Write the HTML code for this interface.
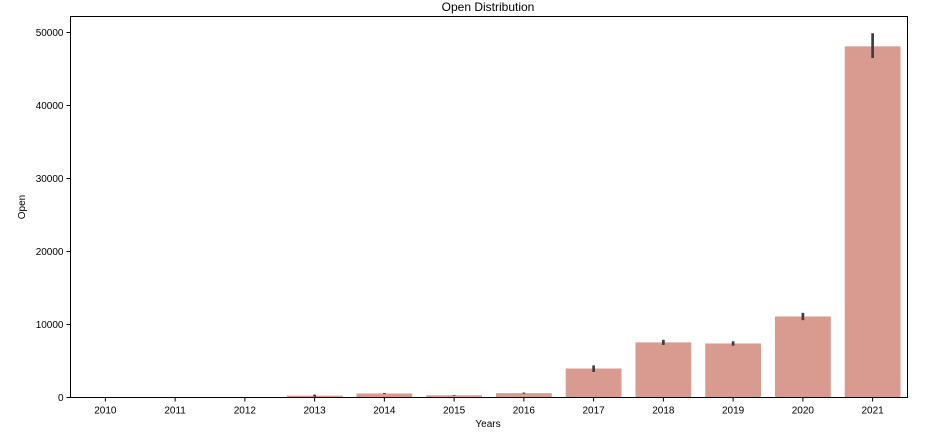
<!DOCTYPE html>
<html><head><meta charset="utf-8">
<style>
body{margin:0;background:#fff;font-family:"Liberation Sans","DejaVu Sans",sans-serif;}
svg text{font-family:"Liberation Sans","DejaVu Sans",sans-serif;fill:#000;}
</style></head>
<body>
<svg id="chart" width="932" height="440" xmlns="http://www.w3.org/2000/svg">
<rect width="932" height="440" fill="#fff"/>
<text x="488" y="11" font-size="12" text-anchor="middle">Open Distribution</text>
<g id="bars"></g>
<g id="axes"></g>
<rect x="70.5" y="16.5" width="837" height="381" fill="none" stroke="#000" stroke-width="1"/>
<text x="488" y="427" font-size="10" text-anchor="middle">Years</text>
<text x="25" y="207" font-size="10" text-anchor="middle" transform="rotate(-90 25 207)">Open</text>
</svg>
<script>
const years = ["2010","2011","2012","2013","2014","2015","2016","2017","2018","2019","2020","2021"];
const means = [0.2, 5, 10, 250, 550, 300, 600, 3970, 7550, 7400, 11100, 48100];
const errLow = [0.1, 4, 8, 100, 480, 250, 520, 3500, 7200, 7100, 10600, 46500];
const errHigh = [0.3, 6, 12, 400, 620, 350, 680, 4400, 7900, 7700, 11600, 49900];
const yTicks = [0, 10000, 20000, 30000, 40000, 50000];

const L=70.5, R=907.5, T=16.5, B=397.5;
const NS="http://www.w3.org/2000/svg";
const y = v => B - v * (B - 32.5) / 50000;
const band = (R - L) / years.length;
const xc = i => L + band * (i + 0.5);
const bw = band * 0.8;
const bars = document.getElementById('bars');
const axes = document.getElementById('axes');
function mk(tag, attrs, parent){const e=document.createElementNS(NS,tag);for(const k in attrs)e.setAttribute(k,attrs[k]);parent.appendChild(e);return e;}

years.forEach((yr,i)=>{
  const r = mk('rect',{x:xc(i)-bw/2,y:y(means[i]),width:bw,height:B-y(means[i]),fill:'#d99a90'},bars);
  
  
  const l = mk('line',{x1:xc(i),x2:xc(i),y1:y(errLow[i]),y2:y(errHigh[i]),stroke:'#3f3f3f','stroke-width':2.7},bars);
  
  
  const t = mk('line',{x1:xc(i),x2:xc(i),y1:B,y2:B+4,stroke:'#000'},axes);
  
  
  const tx = mk('text',{x:xc(i),y:B+16,'font-size':10,'text-anchor':'middle'},axes);
  tx.textContent = yr;
  
  
});
yTicks.forEach(v=>{
  const t = mk('line',{x1:L-4,x2:L,y1:y(v),y2:y(v),stroke:'#000'},axes);
  
  
  const tx = mk('text',{x:L-7,y:y(v)+3.5,'font-size':10,'text-anchor':'end'},axes);
  tx.textContent = v;
  
  
});
</script>
</body></html>
